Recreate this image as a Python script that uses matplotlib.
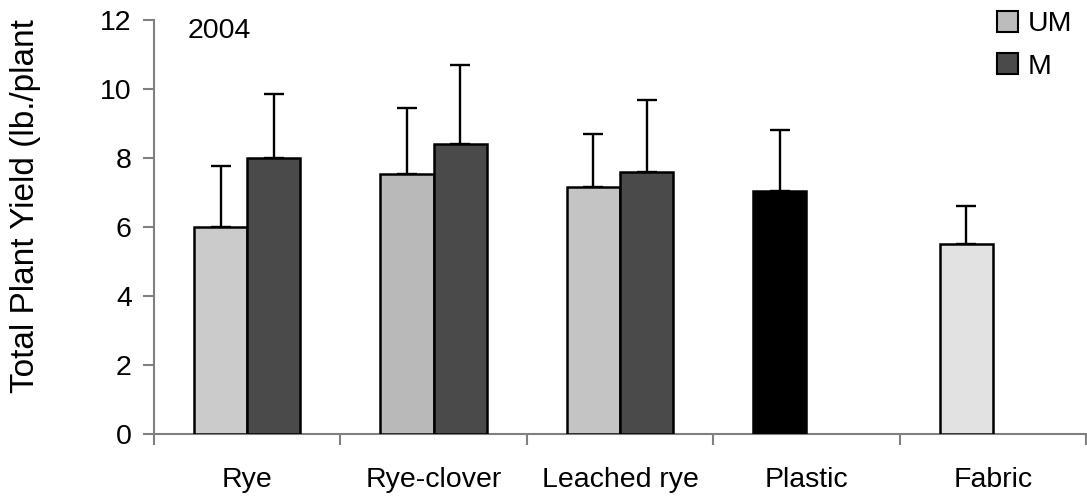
import matplotlib
matplotlib.use("Agg")
import matplotlib.pyplot as plt
import numpy as np
from matplotlib.patches import Patch

categories = ["Rye", "Rye-clover", "Leached rye", "Plastic", "Fabric"]
um_values = [6.0, 7.55, 7.15, 7.03, 5.5]
um_errors = [1.78, 1.9, 1.56, 1.78, 1.1]
m_values = [8.0, 8.4, 7.6, np.nan, np.nan]
m_errors = [1.86, 2.3, 2.08, np.nan, np.nan]
um_colors = ["#cbcbcb", "#b9b9b9", "#c4c4c4", "#000000", "#e2e2e2"]
m_color = "#4a4a4a"
yticks = [0, 2, 4, 6, 8, 10, 12]

plt.rcParams['font.family'] = ['Liberation Sans', 'DejaVu Sans']
fs = 20.5

fig = plt.figure(figsize=(10.87, 4.99), dpi=100)
ax = fig.add_axes([154/1087, 1-434/499, 932/1087, 414/499])

x = np.arange(len(categories))
w = 0.285
ekw = dict(elinewidth=1.7, capthick=1.7, ecolor="black")
ax.bar(x - w/2, um_values, w, color=um_colors, edgecolor="black", linewidth=1.8, zorder=3)
ax.errorbar(x - w/2, um_values, yerr=[np.zeros(len(x)), um_errors], fmt="none",
            capsize=7.5, zorder=2, **ekw)
ax.bar(x + w/2, m_values, w, color=m_color, edgecolor="black", linewidth=1.8, zorder=3)
ax.errorbar(x + w/2, m_values, yerr=[np.zeros(len(x)), m_errors], fmt="none",
            capsize=7.5, zorder=2, **ekw)

ax.set_xlim(-0.5, len(categories) - 0.5)
ax.set_ylim(0, 12)
ax.set_yticks(yticks)
ax.set_yticklabels([str(t) for t in yticks], fontsize=fs)
ax.set_xticks(np.arange(len(categories) + 1) - 0.5)
ax.set_xticklabels([""] * (len(categories) + 1))
ax.set_xticks(x, minor=True)
ax.set_xticklabels(categories, minor=True, fontsize=fs)
ax.tick_params(axis="x", which="minor", length=0, pad=24)
ax.tick_params(axis="x", which="major", length=8, width=1.5, color="#808080", direction="out")
ax.tick_params(axis="y", length=8, width=1.5, color="#808080", direction="out", pad=8)

for s in ["top", "right"]:
    ax.spines[s].set_visible(False)
for s in ["left", "bottom"]:
    ax.spines[s].set_color("#808080")
    ax.spines[s].set_linewidth(1.5)

ax.set_ylabel("Total Plant Yield (lb./plant", fontsize=24)
ax.yaxis.set_label_coords(26/1087, 1-206/499, transform=fig.transFigure)
ax.yaxis.label.set_va("center")
ax.text(188/1087, 1-31/499, "2004", transform=fig.transFigure, fontsize=fs,
        va="center", ha="left")

handles = [Patch(facecolor="#bcbcbc", edgecolor="black", linewidth=1.5, label="UM"),
           Patch(facecolor=m_color, edgecolor="black", linewidth=1.5, label="M")]
fig.legend(handles=handles, loc="upper right", bbox_to_anchor=(1072/1087, 1-11/499),
           frameon=False, fontsize=fs, handlelength=0.75, handleheight=0.75,
           handletextpad=0.32, labelspacing=0.56, borderaxespad=0, borderpad=0)

fig.savefig("out.png", dpi=100)
